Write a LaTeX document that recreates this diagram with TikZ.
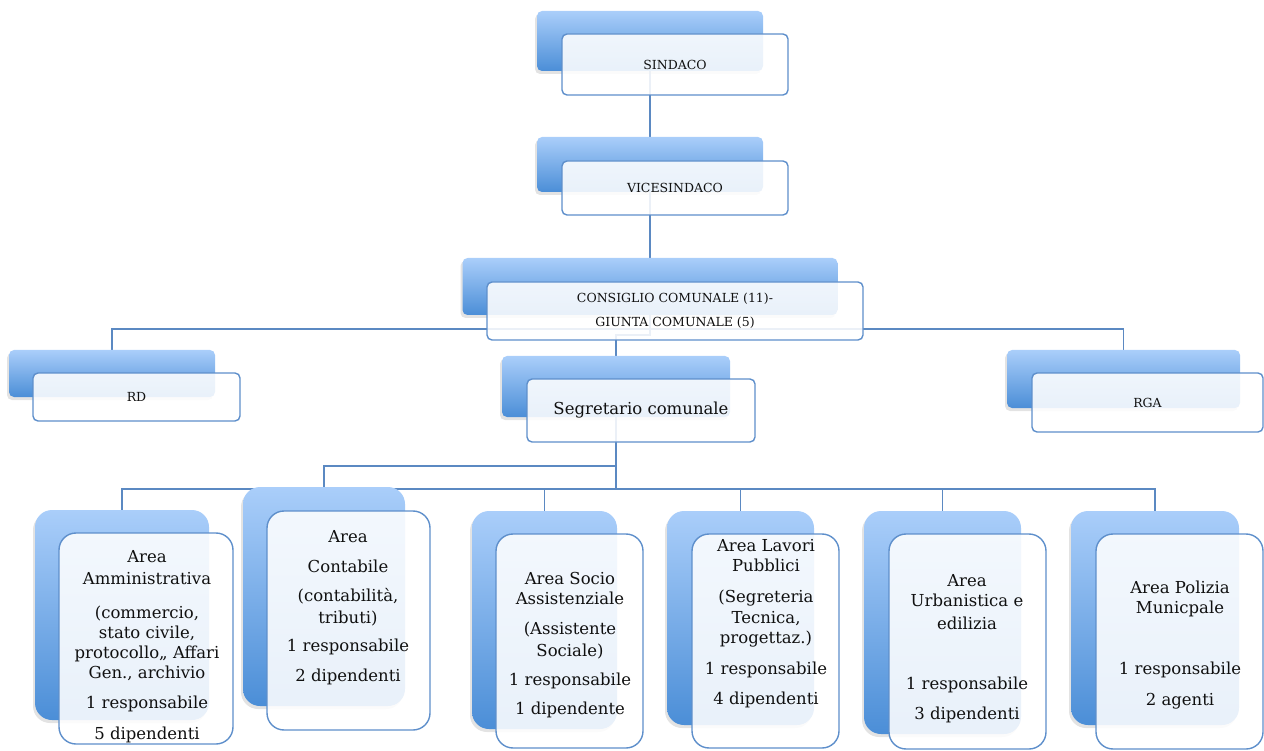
\documentclass[tikz,border=0pt]{standalone}
\usepackage{fontspec}
\setmainfont{DejaVu Serif}
\usetikzlibrary{shadows,backgrounds}
\definecolor{lineblue}{HTML}{5B89C2}
\definecolor{topblue}{HTML}{AACEFA}
\definecolor{botblue}{HTML}{4B8ED7}
\definecolor{edgeblue}{HTML}{5E8FCB}
\definecolor{txt}{HTML}{101010}
\begin{document}
\begin{tikzpicture}[x=1pt,y=-1pt,
  conn/.style={draw=lineblue, line width=1.6pt},
  backtop/.style={rectangle, rounded corners=5pt, top color=topblue, bottom color=botblue, draw=none, inner sep=0pt,
    drop shadow={shadow xshift=-2pt, shadow yshift=-3pt, opacity=0.22}},
  backarea/.style={backtop, rounded corners=17pt},
  fronttop/.style={rectangle, rounded corners=5pt, draw=edgeblue, line width=1.4pt, fill=white, fill opacity=0.88,
    text opacity=1, text=txt, inner sep=0pt, align=center, font=\fontsize{12.5}{15}\selectfont},
  frontarea/.style={fronttop, rounded corners=17pt},
  areatext/.style={anchor=north, inner sep=0pt, align=center, text=txt, font=\fontsize{16.5}{20}\selectfont}
]
\useasboundingbox (0,0) rectangle (1264,751);

% back boxes
\node[backtop, minimum width=226pt, minimum height=60pt] (bS) at (650,41) {};
\node[backtop, minimum width=226pt, minimum height=55pt] (bV) at (650,164.5) {};
\node[backtop, minimum width=375pt, minimum height=57pt] (bC) at (650,286.5) {};
\node[backtop, minimum width=206pt, minimum height=47pt] (bRD) at (112,373.5) {};
\node[backtop, minimum width=233pt, minimum height=58pt] (bRGA) at (1123.5,379) {};
\node[backtop, minimum width=228pt, minimum height=61pt] (bSeg) at (616,386.5) {};
\node[backarea, minimum width=174pt, minimum height=210pt] (bA1) at (122,615) {};
\node[backarea, minimum width=162pt, minimum height=219pt] (bA2) at (324,596.5) {};
\node[backarea, minimum width=145pt, minimum height=218pt] (bA3) at (544.5,620) {};
\node[backarea, minimum width=147pt, minimum height=214pt] (bA4) at (740.5,618) {};
\node[backarea, minimum width=157pt, minimum height=223pt] (bA5) at (942.5,622.5) {};
\node[backarea, minimum width=168pt, minimum height=214pt] (bA6) at (1155,618) {};

% front boxes
\node[fronttop, minimum width=226pt, minimum height=61pt] (fS) at (675,64.5) {SINDACO};
\node[fronttop, minimum width=226pt, minimum height=54pt] (fV) at (675,188) {VICESINDACO};
\node[fronttop, minimum width=376pt, minimum height=58pt] (fC) at (675,311) {CONSIGLIO COMUNALE (11)-\\[9pt]GIUNTA COMUNALE (5)};
\node[fronttop, minimum width=207pt, minimum height=48pt] (fRD) at (136.5,397) {RD};
\node[fronttop, minimum width=231pt, minimum height=59pt] (fRGA) at (1147.5,402.5) {RGA};
\node[fronttop, minimum width=228pt, minimum height=63pt, font=\fontsize{16.5}{20}\selectfont] (fSeg) at (641,410.5) {Segretario comunale};
\node[frontarea, minimum width=174pt, minimum height=211pt] (fA1) at (146,638.5) {};
\node[frontarea, minimum width=163pt, minimum height=219pt] (fA2) at (348.5,620.5) {};
\node[frontarea, minimum width=147pt, minimum height=214pt] (fA3) at (569.5,641) {};
\node[frontarea, minimum width=147pt, minimum height=214pt] (fA4) at (765.5,641) {};
\node[frontarea, minimum width=157pt, minimum height=215pt] (fA5) at (967.5,641.5) {};
\node[frontarea, minimum width=167pt, minimum height=215pt] (fA6) at (1179.5,641.5) {};

% area texts
\node[areatext] (t1) at (147,550) {Area\\[2pt]Amministrativa\\[14pt](commercio,\\stato civile,\\protocollo,, Affari\\Gen., archivio\\[10pt]1 responsabile\\[11pt]5 dipendenti};
\node[areatext] (t2) at (348,530) {Area\\[10pt]Contabile\\[9pt](contabilità,\\[2pt]tributi)\\[8pt]1 responsabile\\[10pt]2 dipendenti};
\node[areatext] (t3) at (570,572) {Area Socio\\Assistenziale\\[10pt](Assistente\\[2pt]Sociale)\\[9pt]1 responsabile\\[9pt]1 dipendente};
\node[areatext] (t4) at (766,539) {Area Lavori\\Pubblici\\[11pt](Segreteria\\[1pt]Tecnica,\\progettaz.)\\[11pt]1 responsabile\\[10pt]4 dipendenti};
\node[areatext] (t5) at (967,574) {Area\\Urbanistica e\\[3pt]edilizia\\[40pt]1 responsabile\\[10pt]3 dipendenti};
\node[areatext] (t6) at (1180,581) {Area Polizia\\Municpale\\[41pt]1 responsabile\\[11pt]2 agenti};

% connectors
\begin{pgfonlayer}{background}
\draw[conn] (bS.south) -- (bV.north);
\draw[conn] (bV.south) -- (bV.south |- bC.north);
\draw[conn] (bC.south) -- ++(0,14) -| (bRD.north);
\draw[conn] (bC.south) -- ++(0,14) -| (bRGA.north);
\draw[conn] (bC.south) -- ++(0,20) -| (bSeg.north);
\draw[conn] (bSeg.south) -- ++(0,49) -| (bA2.north);
\draw[conn] (bSeg.south) -- ++(0,72) -| (bA1.north);
\draw[conn] (bSeg.south) -- ++(0,72) -| (bA3.north);
\draw[conn] (bSeg.south) -- ++(0,72) -| (bA4.north);
\draw[conn] (bSeg.south) -- ++(0,72) -| (bA5.north);
\draw[conn] (bSeg.south) -- ++(0,72) -| (bA6.north);
\end{pgfonlayer}
\end{tikzpicture}
\end{document}
